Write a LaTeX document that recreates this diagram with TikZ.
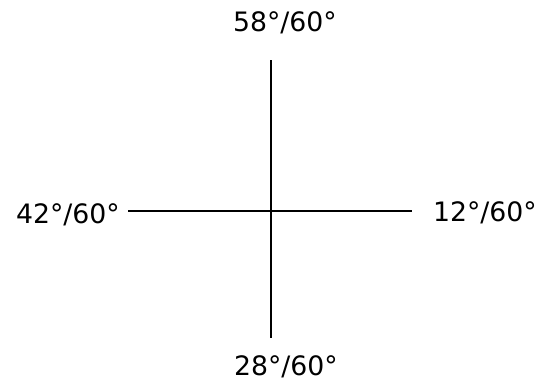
\documentclass[tikz,border=0pt]{standalone}
\usepackage{fontspec}
\setmainfont{DejaVu Sans}
\usepackage{tikz}
\usetikzlibrary{positioning}

\begin{document}
\begin{tikzpicture}[
    x=0.025cm, y=-0.025cm,
    sudut/.style={font=\fontsize{19}{22}\selectfont, inner sep=0pt},
    garis/.style={line width=1.1pt}
  ]
    \useasboundingbox (0,0) rectangle (539,383);
    \node[sudut] (atas) at (285,23) {58°/60°};
    \node[sudut] (kiri) at (68,215) {42°/60°};
    \node[sudut] (kanan) at (485,213) {12°/60°};
    \node[sudut] (bawah) at (286,367) {28°/60°};

    \coordinate (ujungatas) at (271,60);
    \coordinate (ujungbawah) at (271,338);
    \coordinate (ujungkiri) at (128,211);
    \coordinate (ujungkanan) at (412,211);

    \draw[garis] (ujungatas) -- (ujungbawah);
    \draw[garis] (ujungkiri) -- (ujungkanan);
  \end{tikzpicture}
\end{document}
